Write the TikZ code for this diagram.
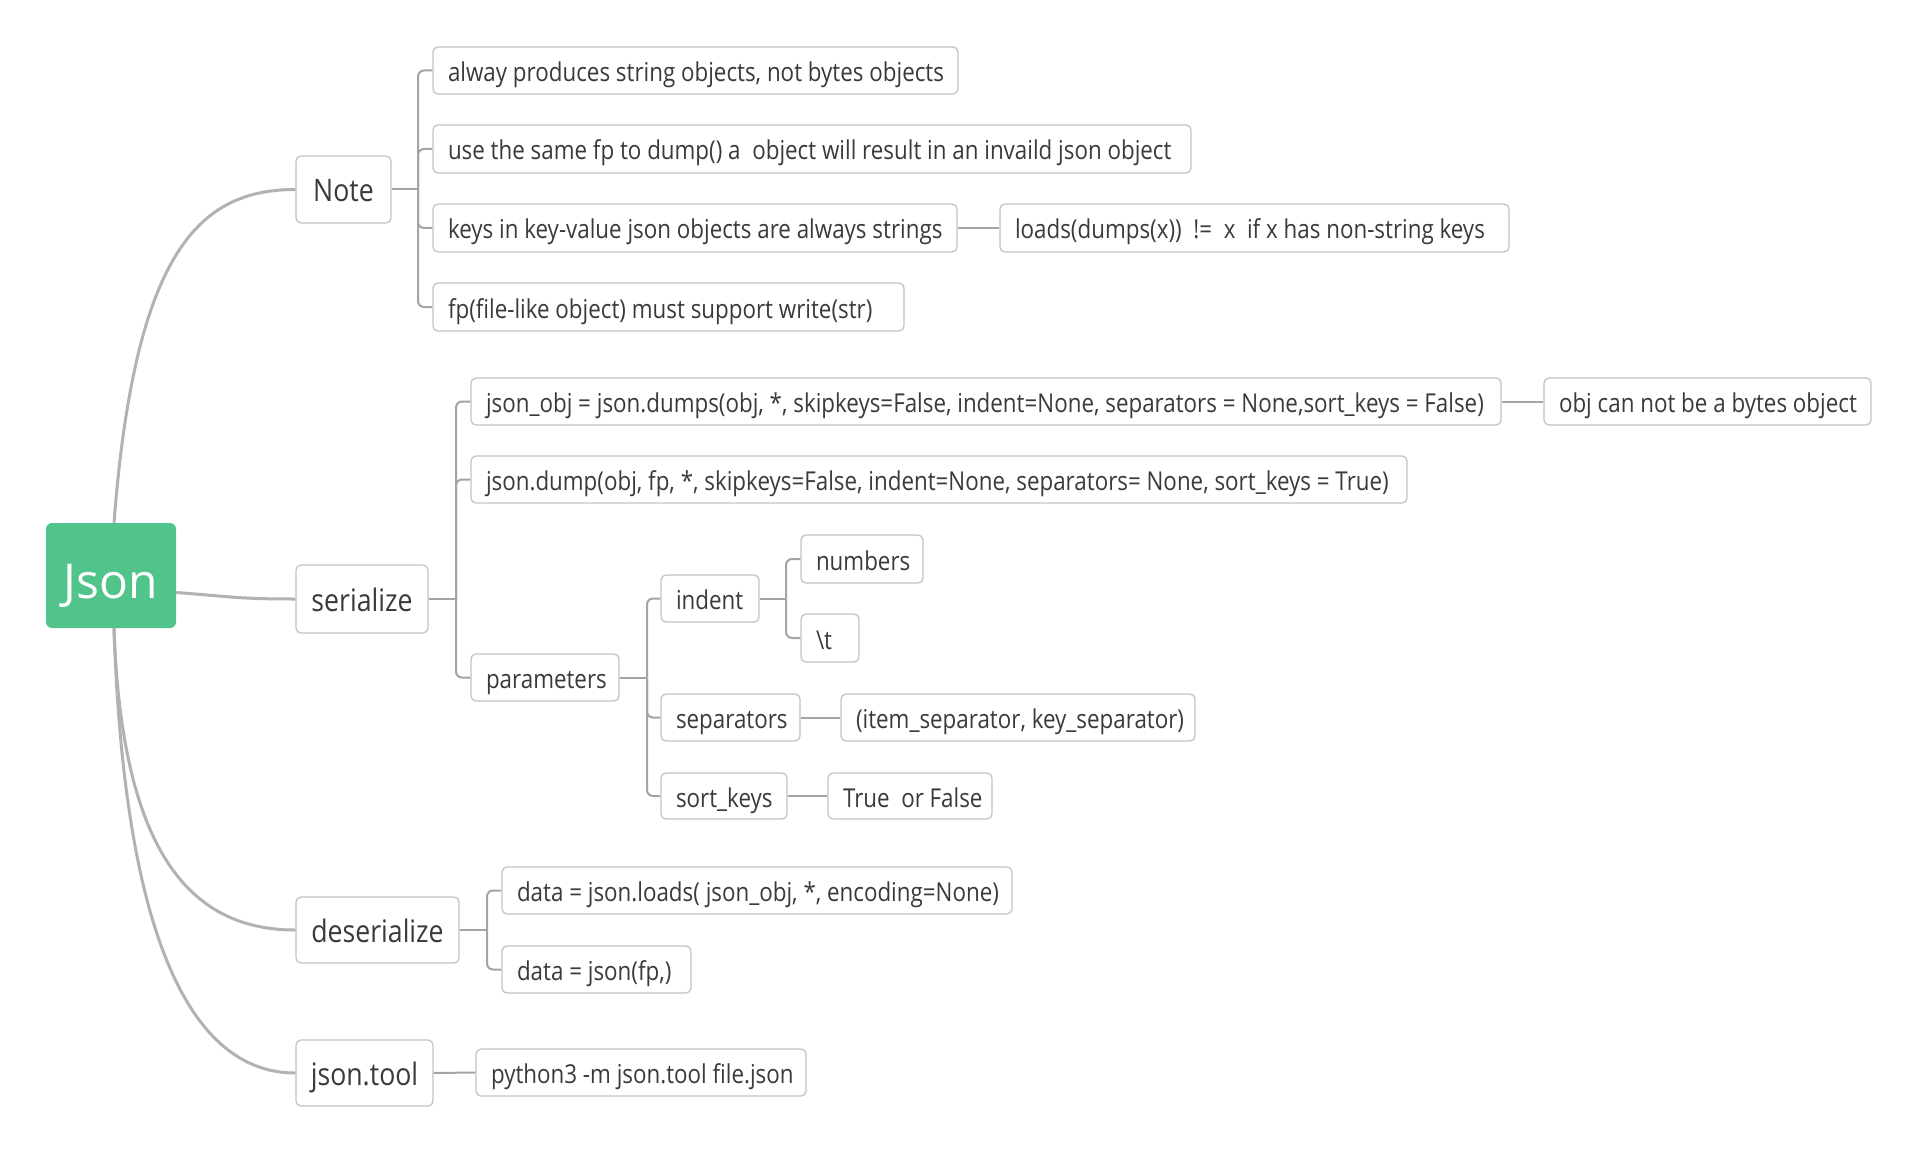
\documentclass[tikz,border=0pt]{standalone}
\usepackage{fontspec}
\setmainfont{Open Sans}[FakeStretch=0.86]
\newfontfamily\rootfont{Open Sans}
\definecolor{boxc}{HTML}{C4C4C4}
\definecolor{linec}{HTML}{A4A4A4}
\definecolor{rootc}{HTML}{B2B2B2}
\definecolor{txt}{HTML}{3A3A3A}
\definecolor{jgreen}{HTML}{51C48C}
% centred box
\newcommand\bnode[7]{\node[#1, minimum width={#5-#3}, minimum height={#6-#4}] (#2) at ({(#3+#5)/2},{(#4+#6)/2}) {#7};}
% left aligned box with 15px padding
\newcommand\lnode[7]{\pgfmathsetmacro\tw{#5-#3-30}\node[#1, minimum width={#5-#3}, minimum height={#6-#4}] (#2) at ({(#3+#5)/2},{(#4+#6)/2}) {\makebox[\tw pt][l]{#7}};}
\begin{document}
\begin{tikzpicture}[x=1pt,y=-1pt,
  box/.style={draw=boxc, line width=1.3pt, rounded corners=5pt, fill=white, text=txt, inner sep=0pt, text height=22pt, text depth=0pt, font=\fontsize{26}{30}\selectfont},
  lvone/.style={box, text height=25pt, font=\fontsize{31}{36}\selectfont},
  rootbox/.style={fill=jgreen, rounded corners=6pt, text=white, inner sep=0pt, text height=45pt, text depth=0pt, font=\rootfont\fontsize{48}{56}\selectfont},
  br/.style={draw=linec, line width=2pt, rounded corners=6pt},
  rootl/.style={draw=rootc, line width=3pt}]
\useasboundingbox[fill=white] (0,0) rectangle (1929,1158);

% root
\bnode{rootbox}{json}{46}{523}{176}{628}{Json}
% level 1
\bnode{lvone}{note}{296}{156}{391}{223}{Note}
\bnode{lvone}{ser}{296}{565}{428}{633}{serialize}
\bnode{lvone}{deser}{296}{897}{459}{963}{deserialize}
\bnode{lvone}{tool}{296}{1040}{433}{1106}{json.tool}

% Note children
\lnode{box}{a1}{433}{47}{958}{94}{alway produces string objects, not bytes objects}
\lnode{box}{a2}{433}{125}{1191}{173}{use the same fp to dump() a\ \ object will result in an invaild json object}
\lnode{box}{a3}{433}{204}{957}{252}{keys in key-value json objects are always strings}
\lnode{box}{a3a}{1000}{204}{1509}{252}{loads(dumps(x))\ \ !=\ \ x\ \ if x has non-string keys}
\lnode{box}{a4}{433}{283}{904}{331}{fp(file-like object) must support write(str)}

% serialize children
\lnode{box}{b1}{471}{378}{1501}{425}{json\_obj = json.dumps(obj, *, skipkeys=False, indent=None, separators = None,sort\_keys = False)}
\lnode{box}{b1a}{1544}{378}{1871}{425}{obj can not be a bytes object}
\lnode{box}{b2}{471}{456}{1407}{503}{json.dump(obj, fp, *, skipkeys=False, indent=None, separators= None, sort\_keys = True)}
\lnode{box}{b3}{471}{654}{619}{701}{parameters}
\lnode{box}{c1}{661}{575}{759}{622}{indent}
\lnode{box}{d1}{801}{535}{923}{583}{numbers}
\lnode{box}{d2}{801}{614}{859}{662}{\textbackslash t}
\lnode{box}{c2}{661}{694}{800}{741}{separators}
\lnode{box}{c2a}{841}{694}{1195}{741}{(item\_separator, key\_separator)}
\lnode{box}{c3}{661}{773}{787}{819}{sort\_keys}
\lnode{box}{c3a}{828}{773}{992}{819}{True\ \ or False}

% deserialize children
\lnode{box}{e1}{502}{867}{1012}{914}{data = json.loads( json\_obj, *, encoding=None)}
\lnode{box}{e2}{502}{946}{691}{993}{data = json(fp,)}

% json.tool child
\lnode{box}{f1}{476}{1049}{806}{1096}{python3 -m json.tool file.json}

% root curves
\draw[rootl] ([xshift=3pt]json.north) .. controls (135,250) and (200,189.5) .. (note.west);
\draw[rootl] ([yshift=-17pt]json.east) .. controls (235,597) and (240,599) .. (ser.west);
\draw[rootl] ([xshift=3pt]json.south) .. controls (122,860) and (195,930) .. (deser.west);
\draw[rootl] ([xshift=3pt]json.south) .. controls (125,960) and (200,1073) .. (tool.west);

% brackets
\coordinate (nbr) at (418,189.5);
\draw[br] (note.east) -- (nbr);
\foreach \c in {a1,a2,a3,a4} \draw[br] (nbr) |- (\c.west);
\draw[br] (a3.east) -- (a3a.west);

\coordinate (sbr) at (456,599);
\draw[br] (ser.east) -- (sbr);
\foreach \c in {b1,b2,b3} \draw[br] (sbr) |- (\c.west);
\draw[br] (b1.east) -- (b1a.west);

\coordinate (pbr) at (647,677.5);
\draw[br] (b3.east) -- (pbr);
\foreach \c in {c1,c2,c3} \draw[br] (pbr) |- (\c.west);
\draw[br] (c2.east) -- (c2a.west);
\draw[br] (c3.east) -- (c3a.west);

\coordinate (ibr) at (786,598.5);
\draw[br] (c1.east) -- (ibr);
\foreach \c in {d1,d2} \draw[br] (ibr) |- (\c.west);

\coordinate (dbr) at (487,930);
\draw[br] (deser.east) -- (dbr);
\foreach \c in {e1,e2} \draw[br] (dbr) |- (\c.west);

\draw[br] (tool.east) -- (f1.west);
\end{tikzpicture}
\end{document}
